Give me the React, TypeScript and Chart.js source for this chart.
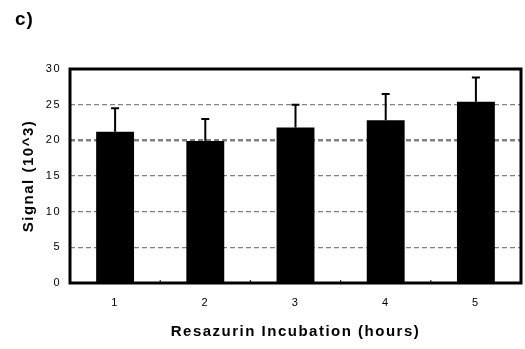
import React, { useEffect, useRef } from "react";
import { Chart, registerables } from "chart.js";

Chart.register(...registerables);

const categories = ["1", "2", "3", "4", "5"];
const signalValues = [21.2, 19.9, 21.8, 22.8, 25.4];
const errorTops = [24.5, 23.0, 25.0, 26.5, 28.8];
const yTicks = [0, 5, 10, 15, 20, 25, 30];

const FONT = "'Liberation Sans', Arial, sans-serif";

const decorPlugin = {
  id: "decor",
  beforeDraw(chart: any) {
    (chart.ctx as any).letterSpacing = "1.5px";
  },
  afterDatasetsDraw(chart: any) {
    const ctx = chart.ctx;
    const yScale = chart.scales.y;
    const meta = chart.getDatasetMeta(0);
    ctx.save();
    ctx.strokeStyle = "#000";
    ctx.lineWidth = 2;
    meta.data.forEach((bar: any, i: number) => {
      const x = bar.x;
      const yTop = yScale.getPixelForValue(errorTops[i]);
      const yBase = yScale.getPixelForValue(signalValues[i]);
      ctx.beginPath();
      ctx.moveTo(x, yBase);
      ctx.lineTo(x, yTop);
      ctx.moveTo(x - 4, yTop);
      ctx.lineTo(x + 4, yTop);
      ctx.stroke();
    });
    ctx.restore();
  },
  afterDraw(chart: any) {
    const ctx = chart.ctx;
    const a = chart.chartArea;
    ctx.save();
    ctx.strokeStyle = "#000";
    ctx.lineWidth = 3;
    ctx.strokeRect(a.left, a.top, a.right - a.left, a.bottom - a.top);
    const xScale = chart.scales.x;
    ctx.lineWidth = 1;
    for (let i = 1; i < categories.length; i++) {
      const xb = (xScale.getPixelForValue(i - 1) + xScale.getPixelForValue(i)) / 2;
      ctx.beginPath();
      ctx.moveTo(xb, a.bottom);
      ctx.lineTo(xb, a.bottom - 3);
      ctx.stroke();
    }
    ctx.fillStyle = "#000";
    (ctx as any).letterSpacing = "1px";
    ctx.font = `bold 19px ${FONT}`;
    ctx.textBaseline = "middle";
    ctx.textAlign = "left";
    ctx.fillText("c)", 15, 20);
    ctx.restore();
  },
};

export default function App() {
  const ref = useRef<HTMLCanvasElement | null>(null);
  useEffect(() => {
    document.body.style.margin = "0";
    const chart = new Chart(ref.current!, {
      type: "bar",
      data: {
        labels: categories,
        datasets: [
          {
            data: signalValues,
            backgroundColor: "#000",
            borderWidth: 0,
            barPercentage: 0.42,
            categoryPercentage: 1,
          },
        ],
      },
      options: {
        animation: false,
        responsive: false,
        maintainAspectRatio: false,
        layout: { padding: { top: 69, right: 4, left: 0, bottom: 0 } },
        plugins: {
          legend: { display: false },
          tooltip: { enabled: false },
        },
        scales: {
          x: {
            grid: { display: false, drawTicks: false },
            border: { display: false },
            ticks: {
              color: "#000",
              font: { family: FONT, size: 11 },
              padding: 13,
            },
            title: {
              display: true,
              text: "Resazurin Incubation (hours)",
              color: "#000",
              font: { family: FONT, size: 15, weight: "bold" },
              padding: { top: 8, bottom: 8 },
            },
            afterFit(scale: any) {
              scale.height = 66;
            },
          },
          y: {
            min: 0,
            max: 30,
            afterBuildTicks(scale: any) {
              scale.ticks = yTicks.map((v) => ({ value: v }));
            },
            grid: {
              color: (c: any) => (c.tick && (c.tick.value === 0 || c.tick.value === 30) ? "rgba(0,0,0,0)" : "#808080"),
              lineWidth: (c: any) => (c.tick && c.tick.value === 20 ? 2.5 : 1.2),
              drawTicks: false,
            },
            border: { display: false, dash: [5, 3] },
            ticks: {
              color: "#000",
              font: { family: FONT, size: 11 },
              padding: 9,
            },
            title: {
              display: true,
              text: "Signal (10^3)",
              color: "#000",
              font: { family: FONT, size: 15, weight: "bold" },
              padding: { top: 20, bottom: 8 },
            },
            afterFit(scale: any) {
              scale.width = 70;
            },
          },
        },
      } as any,
      plugins: [decorPlugin],
    });
    return () => chart.destroy();
  }, []);
  return (
    <div style={{ width: 525, height: 349 }}>
      <canvas ref={ref} width={525} height={349} style={{ width: 525, height: 349, display: "block" }} />
    </div>
  );
}
